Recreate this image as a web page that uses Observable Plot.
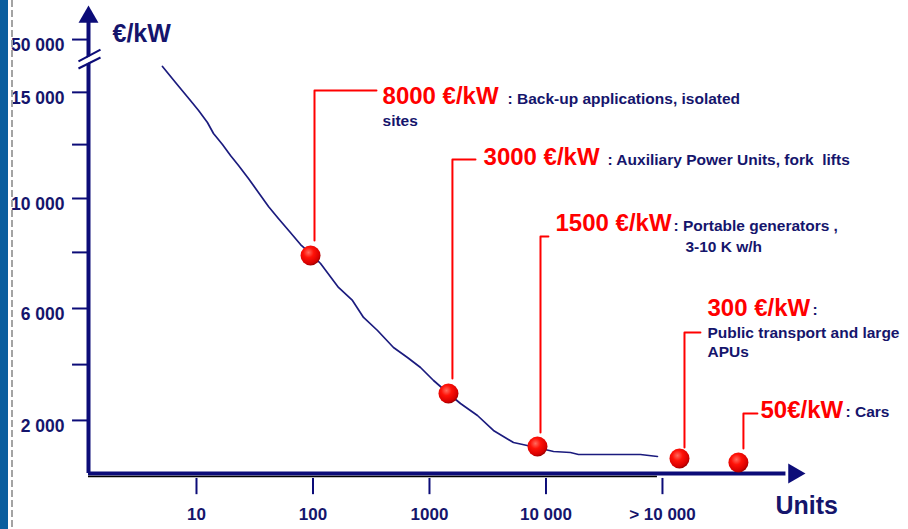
<!DOCTYPE html>
<html><head><meta charset="utf-8">
<script src="https://cdn.jsdelivr.net/npm/d3@7"></script>
<script src="https://cdn.jsdelivr.net/npm/@observablehq/plot@0.6"></script>
<style>
body{margin:0;background:#fff;}
#wrap{position:relative;width:908px;height:529px;overflow:hidden;background:#fff;}
#wrap svg{position:absolute;left:0;top:0;}
#bar{position:absolute;left:0;top:0;width:8px;height:529px;background:#0a5e9e;}
#dash{position:absolute;left:11px;top:0;width:2px;height:529px;
 background:repeating-linear-gradient(to bottom,#a3a3a3 0 7px,transparent 7px 10px);}
</style></head><body><div id="wrap"></div>
<script>
// ---- data (x in log10 of units, y in €/kW display units) ----
const curveX = [0.708,0.820,0.948,1.018,1.094,1.146,1.223,1.292,1.361,1.446,1.532,1.618,1.703,1.806,1.893,1.987,2.065,2.219,2.339,2.434,2.554,2.691,2.811,2.923,3.035,3.163,3.266,3.412,3.549,3.721,3.918,4.065,4.210,4.279,4.811,4.957];
const curveY = [14800,14218,13564,13200,12764,12364,11964,11564,11200,10727,10218,9709,9273,8764,8327,7964,7636,6764,6291,5673,5200,4582,4218,3855,3382,2909,2545,2109,1564,1127,945,800,764,691,691,618];

const costLabels = ["8000 €/kW","3000 €/kW","1500 €/kW","300 €/kW","50€/kW"];
const descText = [": Back-up applications, isolated",": Auxiliary Power Units, fork  lifts",": Portable generators ,",":",": Cars"];
const dotX = [1.979,3.163,3.927,5.146,5.652];
const dotY = [7927,2909,982,545,400];
const stemX = [2.013,3.197,3.953,5.189,5.695];
const stemBottom = [8473,3455,1491,945,909];
const stemTop = [13927,11418,8618,5127,2182];
const stemEnd = [2.545,3.395,4.021,5.326,5.815];
const labelX = [2.597,3.464,4.082,5.386,5.841];
const labelY = [13727,11509,9091,6000,2309];
const descX = [3.670,4.528,5.094,6.288,6.571];
const descY = [13600,11382,8982,5950,2218];
const noteText = ["sites","3-10 K w/h","Public transport and large","APUs"];
const noteX = [2.597,5.197,5.386,5.386];
const noteY = [12800,8218,5091,4400];

const xTickPos = [1,2,3,4,5];
const xTickLabels = ["10","100","1000","10 000","> 10 000"];
const yTickPos = [15780,13860,11960,10000,8040,6000,3960,1930];
const yTickLabels = ["50 000","15 000","","10 000","","6 000","","2 000"];

// ---- chart ----
const navy = "#0c0c78", textNavy = "#15156c", curveColor = "#1b1b7e", red = "#ff0000";
const font = "'Liberation Sans', Arial, Helvetica, sans-serif";
const x0 = 0.073;      // position of the vertical axis
const xEnd = 7.112;
const ann = costLabels.map((label,i)=>({label, desc: descText[i], dotX: dotX[i], dotY: dotY[i],
  stemX: stemX[i], stemBottom: stemBottom[i], stemTop: stemTop[i], stemEnd: stemEnd[i],
  labelX: labelX[i], labelY: labelY[i], descX: descX[i], descY: descY[i]}));
const leaders = ann.flatMap((a,i)=>[
  {i, x:a.stemX, y:a.stemBottom},{i, x:a.stemX, y:a.stemTop},{i, x:a.stemEnd, y:a.stemTop}]);
const curve = curveX.map((x,i)=>({x, y: curveY[i]}));
const idx = a => a.map((_,i)=>i);

const chart = Plot.plot({
  width: 908, height: 529,
  marginLeft: 88, marginRight: 0, marginTop: 0, marginBottom: 56,
  x: {type: "linear", domain: [x0, xEnd], axis: null},
  y: {type: "linear", domain: [0, 17200], axis: null},
  style: {fontFamily: font, background: "transparent", overflow: "visible"},
  marks: [
    Plot.line(leaders, {x: "x", y: "y", z: "i", stroke: red, strokeWidth: 2}),
    Plot.line(curve, {x: "x", y: "y", stroke: curveColor, strokeWidth: 1.7}),
    // y axis
    Plot.ruleX([x0], {y1: 0, y2: 16400, stroke: navy, strokeWidth: 4}),
    Plot.ruleY(yTickPos, {x1: -0.064, x2: x0, stroke: navy, strokeWidth: 2}),
    Plot.text(idx(yTickLabels), {x: x0, y: i => yTickPos[i], text: i => yTickLabels[i], dx: -24, dy: 6,
      textAnchor: "end", fill: textNavy, fontSize: 17.5, fontWeight: "bold"}),
    Plot.link([0], {x1: -0.013, y1: 14855, x2: 0.176, y2: 15273, stroke: "#fff", strokeWidth: 5}),
    Plot.link([14982, 14727], {x1: -0.013, y1: d => d, x2: 0.176, y2: d => d + 436 - (d === 14727 ? 36 : 0), stroke: navy, strokeWidth: 2}),
    Plot.dot([0], {x: x0, y: 16600, symbol: "triangle", r: 7.4, fill: navy}),
    // x axis
    Plot.ruleY([0], {x1: x0, x2: 6.06, stroke: navy, strokeWidth: 4}),
    Plot.ruleY([-109], {x1: x0, x2: 4.957, stroke: "#000", strokeWidth: 1.3}),
    Plot.dot([0], {x: 6.129, y: 0, symbol: "triangle", r: 7.4, fill: navy, rotate: 90}),
    Plot.ruleX(xTickPos, {y1: -180, y2: -770, stroke: navy, strokeWidth: 2}),
    Plot.text(idx(xTickLabels), {x: i => xTickPos[i], text: i => xTickLabels[i], frameAnchor: "bottom", dy: 46,
      fill: textNavy, fontSize: 17, fontWeight: "bold"}),
    // dots
    Plot.dot(ann, {x: "dotX", y: "dotY", r: 10, fill: "url(#ball)"}),
    // annotations
    Plot.text(ann, {x: "labelX", y: "labelY", text: "label", textAnchor: "start", fill: red, fontSize: 24, fontWeight: "bold"}),
    Plot.text(ann, {x: "descX", y: "descY", text: "desc", textAnchor: "start", fill: textNavy, fontSize: 15.5, fontWeight: "bold"}),
    Plot.text(idx(noteText), {x: i => noteX[i], y: i => noteY[i], text: i => noteText[i], textAnchor: "start",
      fill: textNavy, fontSize: 15.5, fontWeight: "bold"}),
    // axis titles
    Plot.text(["€/kW"], {frameAnchor: "top-left", dx: 24, dy: 24, textAnchor: "start", fill: textNavy, fontSize: 25, fontWeight: "bold"}),
    Plot.text(["Units"], {x: 5.970, frameAnchor: "bottom", dy: 40, textAnchor: "start", fill: textNavy, fontSize: 25, fontWeight: "bold"})
  ]
});

const defs = d3.select(chart).insert("defs", ":first-child");
const g = defs.append("radialGradient").attr("id", "ball").attr("cx", "40%").attr("cy", "35%").attr("r", "65%");
g.append("stop").attr("offset", "0%").attr("stop-color", "#ff6b5e");
g.append("stop").attr("offset", "40%").attr("stop-color", "#ff1208");
g.append("stop").attr("offset", "85%").attr("stop-color", "#d80000");
g.append("stop").attr("offset", "100%").attr("stop-color", "#a00000");

const wrap = document.getElementById("wrap");
wrap.appendChild(chart);
const bar = document.createElement("div"); bar.id = "bar"; wrap.appendChild(bar);
const dash = document.createElement("div"); dash.id = "dash"; wrap.appendChild(dash);
</script>
</body></html>
